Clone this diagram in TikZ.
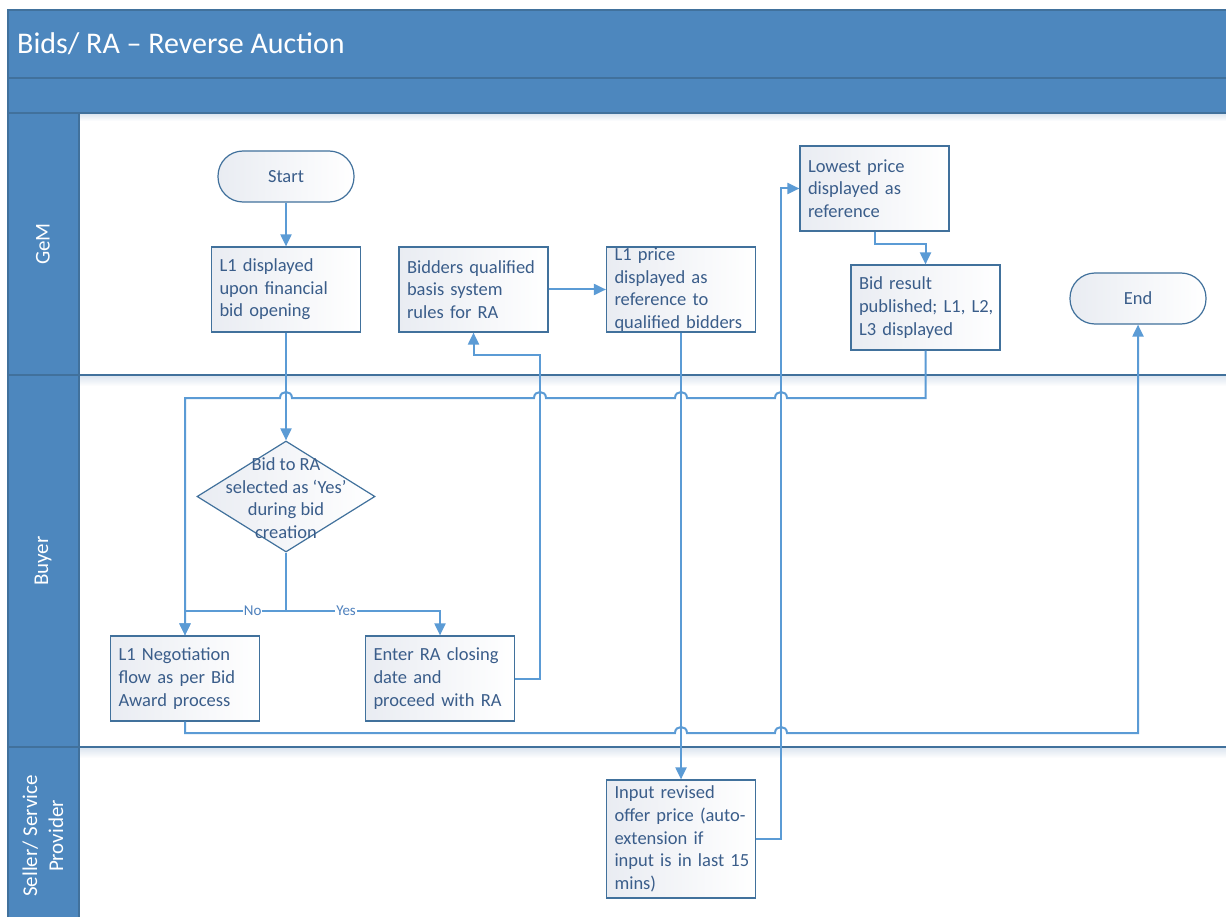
\documentclass[tikz,border=0pt]{standalone}
\usepackage{fontspec}
\setmainfont{Carlito}
\usetikzlibrary{arrows.meta,shapes.geometric,calc}

\definecolor{lanefill}{HTML}{4D87BE}
\definecolor{laneedge}{HTML}{41719C}
\definecolor{flow}{HTML}{5B9BD5}
\definecolor{ink}{HTML}{3A5D8A}
\definecolor{boxedge}{HTML}{41719C}
\definecolor{boxshade}{HTML}{E9ECF2}
\definecolor{laneshadow}{HTML}{DDE6F0}
\definecolor{branchink}{HTML}{4F81BD}

\newcommand\boxfont{\fontsize{18.5}{22.6}\selectfont}
% line hops over a vertical connector at x=#1 on a horizontal run at y=#2
\newcommand\hopleftward[2]{-- (#1+6,#2) .. controls (#1+6,#2-8) and (#1-6,#2-8) .. (#1-6,#2)}
\newcommand\hoprightward[2]{-- (#1-6,#2) .. controls (#1-6,#2-8) and (#1+6,#2-8) .. (#1+6,#2)}

\tikzset{
  procbox/.style={draw=boxedge, line width=1.2pt, left color=boxshade, right color=white,
    text=ink, font=\boxfont, text width=133pt, inner xsep=8pt, inner ysep=0pt,
    minimum height=85pt, align=left},
  terminal/.style={draw=boxedge, line width=1.2pt, left color=boxshade, right color=white,
    rounded corners=25pt, minimum width=136pt, minimum height=51pt, inner sep=0pt,
    text=ink, font=\boxfont},
  decision/.style={diamond, draw=boxedge, line width=1.2pt, left color=boxshade, right color=white,
    minimum width=178pt, minimum height=111pt, inner sep=0pt},
  dectext/.style={text=ink, font=\boxfont, align=center, inner sep=0pt},
  flowline/.style={draw=flow, line width=2pt},
  flowarrow/.style={flowline, -{Triangle[length=12pt,width=11pt]}},
  branchlabel/.style={fill=white, text=branchink, font=\fontsize{15}{16}\selectfont,
    inner xsep=1pt, inner ysep=0pt},
  lanetitle/.style={text=white, font=\fontsize{21}{26}\selectfont, rotate=90, align=center, inner sep=0pt},
  laneline/.style={draw=laneedge, line width=1.5pt},
}

\begin{document}
\begin{tikzpicture}[x=1pt,y=-1pt]
\useasboundingbox (0,0) rectangle (1226,917);
\fill[white] (0,0) rectangle (1226,917);

% pool header bands and lane header column
\fill[lanefill] (8,10) rectangle (1226,113);
\fill[lanefill] (8,113) rectangle (79,917);
\shade[top color=laneshadow, bottom color=white] (79,114) rectangle (1226,121);
\shade[top color=laneshadow, bottom color=white] (79,376) rectangle (1226,386);
\shade[top color=laneshadow, bottom color=white] (79,748) rectangle (1226,758);
\draw[laneedge, line width=1.2pt] (1226,10) -- (8,10) -- (8,917);
\draw[laneedge, line width=1.2pt] (8,78) -- (1226,78);
\draw[laneedge, line width=1.2pt] (8,113) -- (1226,113);
\draw[laneedge, line width=1.2pt] (79,113) -- (79,917);
\draw[laneline] (8,375) -- (1226,375);
\draw[laneline] (8,747) -- (1226,747);

\node[anchor=west, text=white, font=\fontsize{30}{36}\selectfont, inner sep=0pt] (title) at (17,44) {Bids/ RA – Reverse Auction};
\node[lanetitle] (laneGeM) at (43,244) {GeM};
\node[lanetitle] (laneBuyer) at (43,561) {Buyer};
\node[lanetitle] (laneSeller) at (43,836) {Seller/ Service\\Provider};

% GeM lane
\node[terminal] (start) at (286,176.5) {Start};
\node[procbox] (l1disp) at (286,289.5) {L1 displayed\\upon~financial\\bid opening};
\node[procbox] (bidders) at (473.5,289.5) {Bidders~qualified\\basis system\\rules for RA};
\node[procbox] (l1price) at (681,289.5) {L1 price\\displayed as\\reference to\\qualified~bidders};
\node[procbox] (lowest) at (874.5,188.5) {Lowest price\\displayed as\\reference};
\node[procbox] (bidres) at (925.5,307.5) {Bid result\\published;~L1,~L2,\\L3 displayed};
\node[terminal] (endn) at (1138,298.5) {End};

% Buyer lane
\node[decision] (dec) at (286,496.5) {};
\node[dectext] (dectxt) at (286,498) {Bid to RA\\selected as ‘Yes’\\during bid\\creation};
\node[procbox] (negot) at (185,678.5) {L1~Negotiation\\flow~as~per~Bid\\Award~process};
\node[procbox] (enter) at (440,678.5) {Enter~RA~closing\\date and\\proceed~with~RA};

% Seller lane
\node[procbox, minimum height=118pt] (inrev) at (681,839) {Input revised\\offer~price~(auto-\\extension if\\input~is~in~last~15\\mins)};

% connectors
\coordinate (split) at (286,611);
\draw[flowarrow] (start.south) -- (l1disp.north);
\draw[flowarrow] (l1disp.south) -- (dec.north);
\draw[flowarrow] (dec.south) -- (split) -- node[branchlabel, pos=0.33] (nolbl) {No} (185,611) -- (negot.north);
\draw[flowarrow] (split) -- node[branchlabel, pos=0.39] (yeslbl) {Yes} (440,611) -- (enter.north);
\draw[flowarrow] (enter.east) -- (540,678.5) -- (540,355) -- (473.5,355) -- (bidders.south);
\draw[flowarrow] (bidders.east) -- (l1price.west);
\draw[flowarrow] (l1price.south) -- (inrev.north);
\draw[flowarrow] (inrev.east) -- (781,839) -- (781,188.5) -- (lowest.west);
\draw[flowarrow] (lowest.south) -- (874.5,244) -- (925.5,244) -- (bidres.north);
\draw[flowarrow] (bidres.south) -- (925.5,398) \hopleftward{781}{398} \hopleftward{681}{398}
  \hopleftward{540}{398} \hopleftward{286}{398} -- (185,398) -- (negot.north);
\draw[flowarrow] (negot.south) -- (185,733) \hoprightward{681}{733} \hoprightward{781}{733}
  -- (1138,733) -- (endn.south);
\end{tikzpicture}
\end{document}
